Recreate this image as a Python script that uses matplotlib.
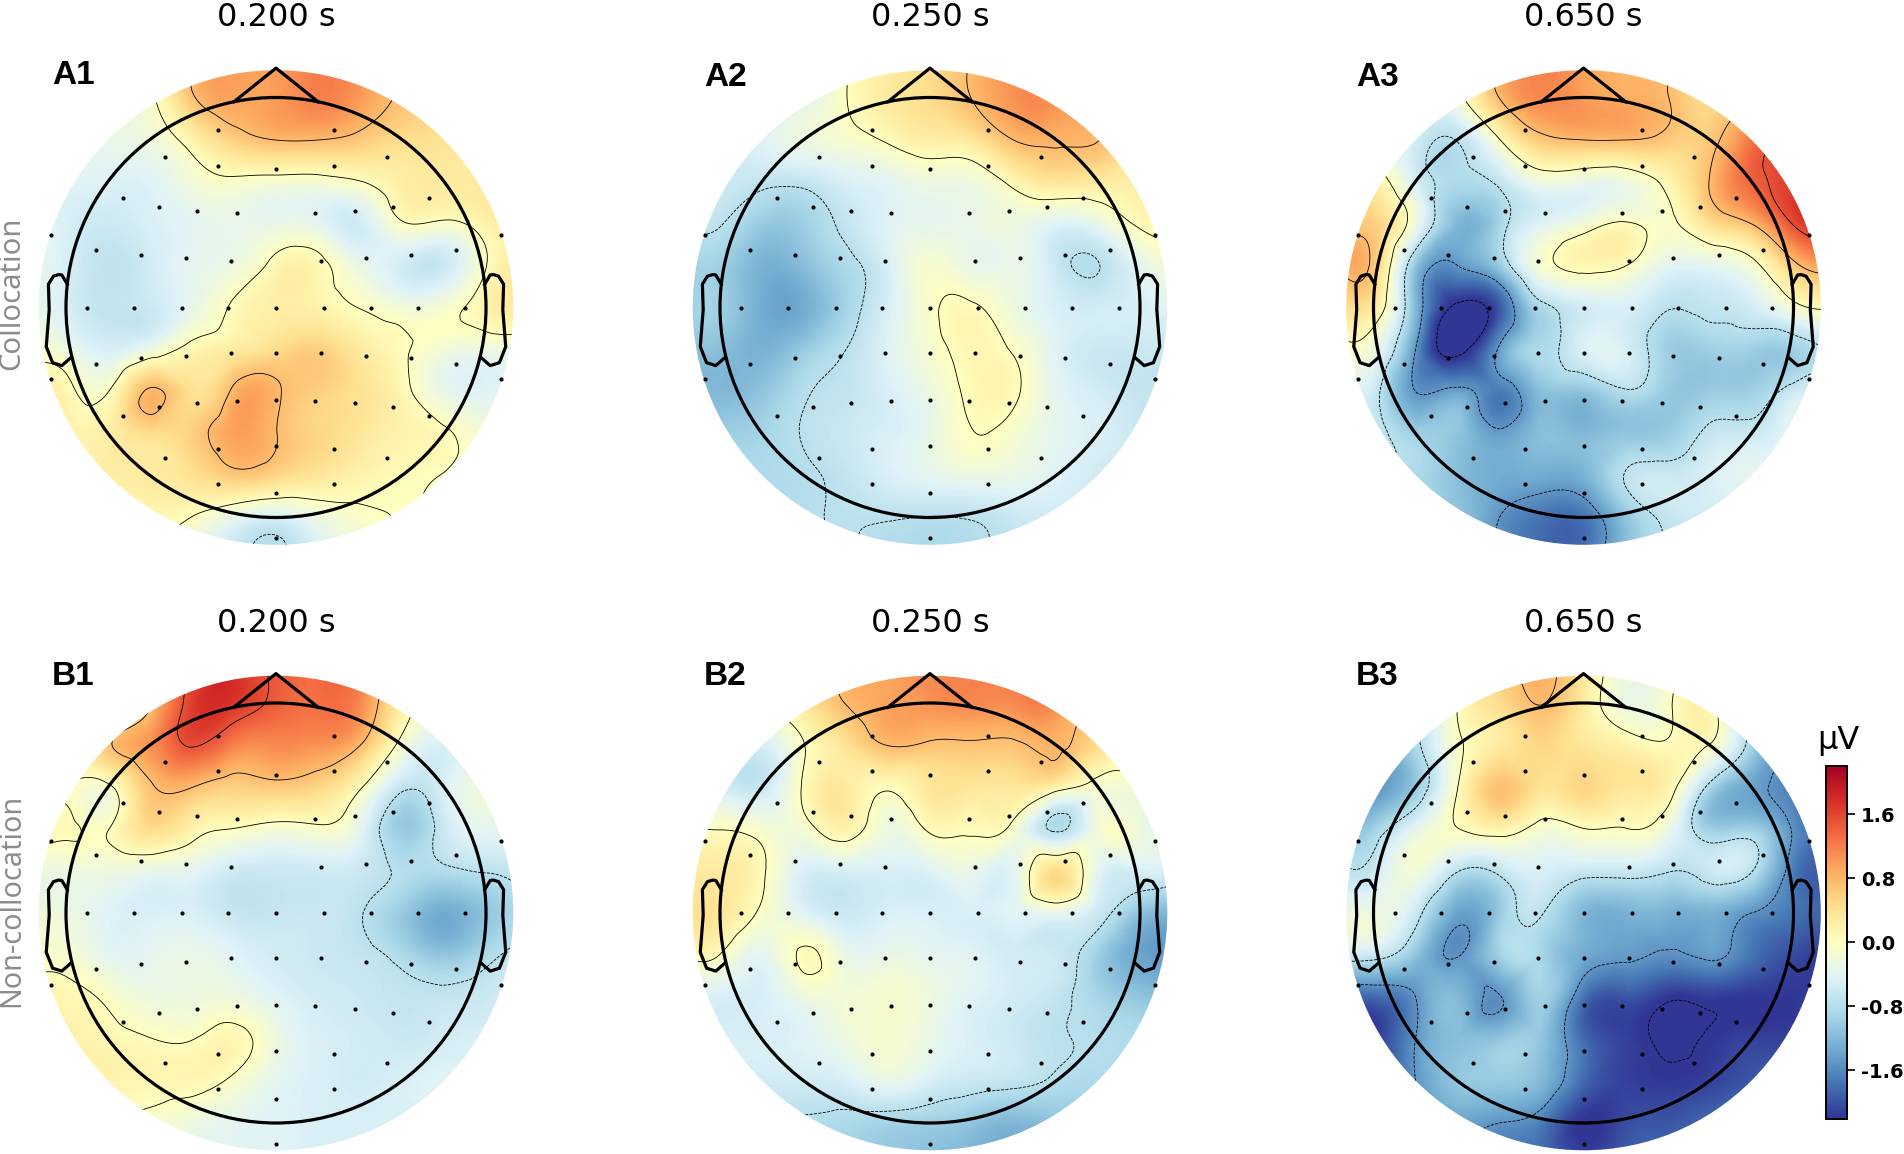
import numpy as np
import matplotlib
matplotlib.use("Agg")
import matplotlib.pyplot as plt
import matplotlib.tri as mtri
from matplotlib.patches import Circle

W, H = 1904, 1154

# sensor positions, head radius = 1
sensor_x = [-.278, .278, -.528, .528, -.278, .278, 0, -.727, .727, -.557, .557, -.376, .376, -.184, .184,
            -1.073, 1.073, -.855, .855, -.644, .644, -.428, .428, -.215, .215,
            -.898, -.678, -.45, -.23, 0, .23, .45, .678, .898,
            0, -.215, .215, -.428, .428, -.644, .644, -.855, .855, -1.073, 1.073,
            -.184, .184, 0, -.376, .376, -.557, .557, -.727, .727,
            -.278, .278, 0, -.528, .528, -.278, .278, 0, 0]
sensor_y = [.845, .845, .717, .717, .676, .676, .659, .523, .523, .479, .479, .46, .46, .448, .448,
            .344, .344, .274, .274, .25, .25, .235, .235, .221, .221,
            0, 0, 0, 0, 0, 0, 0, 0, 0,
            -.215, -.215, -.215, -.232, -.232, -.242, -.242, -.269, -.269, -.341, -.341,
            -.443, -.443, -.44, -.455, -.455, -.475, -.475, -.518, -.518,
            -.673, -.673, -.659, -.716, -.716, -.84, -.84, -.884, -1.099]

# amplitude in uV, rows from y=1.2 down to y=-1.2, columns x=-1.2 to 1.2
a1_values = [
    [-.25, -.25, -.25, -.13, .70, .94, 1.0, 1.18, 1.0, .70, .58, .58, .58],
    [-.37, -.37, -.25, -.07, .70, .94, 1.0, 1.18, 1.0, .70, .58, .58, .58],
    [-.37, -.37, -.31, -.23, .17, .58, .76, .76, .64, .46, .40, .34, .34],
    [-.43, -.43, -.45, -.43, -.19, -.07, -.13, -.13, -.01, .23, .28, .28, .28],
    [-.25, -.5, -.6, -.49, -.39, -.33, -.31, -.37, -.55, -.04, -.07, .17, .28],
    [-.25, -.5, -.7, -.55, -.37, -.25, .11, .11, -.31, -.55, -.61, -.01, .23],
    [-.25, -.5, -.68, -.6, -.31, .05, .23, .17, -.01, -.19, -.13, .17, .23],
    [-.13, -.25, -.5, -.25, .11, .28, .46, .58, .28, .05, -.19, -.25, -.25],
    [.11, .11, -.01, .80, .40, .82, .80, .58, .40, .11, -.31, -.43, -.43],
    [.17, .17, .23, .46, .58, .96, .76, .52, .34, .17, .05, -.19, -.25],
    [.23, .23, .23, .28, .40, .64, .52, .34, .17, .05, -.01, -.13, -.13],
    [.11, .11, .11, .11, -.01, -.31, -.49, -.25, -.07, .01, .01, .01, .01],
    [.01, .01, .01, .01, -.25, -.61, -.79, -.49, -.13, .01, .01, .01, .01],
]
a2_values = [
    [-.73, -.73, -.61, -.49, -.01, .28, .46, .76, 1.06, 1.06, .70, .58, .58],
    [-.73, -.61, -.49, -.37, -.01, .28, .46, .76, 1.06, 1.06, .70, .58, .58],
    [-.73, -.61, -.43, -.25, -.13, .05, .23, .34, .76, .82, .76, .46, .46],
    [-.61, -.61, -.67, -.67, -.49, -.39, -.25, -.23, .11, .34, .28, .23, .23],
    [-.73, -.73, -1.02, -.97, -.67, -.43, -.35, -.31, -.25, -.43, -.31, .05, .11],
    [-.97, -.97, -1.26, -1.14, -.85, -.49, -.13, -.31, -.31, -.61, -.76, -.37, -.13],
    [-.97, -.97, -1.32, -1.32, -.91, -.49, -.07, .05, -.25, -.49, -.55, -.49, -.43],
    [-1.14, -1.14, -1.26, -1.02, -.75, -.43, -.13, .11, -.04, -.43, -.61, -.61, -.61],
    [-1.2, -1.2, -1.08, -.79, -.67, -.49, -.25, .08, .06, -.37, -.55, -.67, -.67],
    [-.97, -.97, -.91, -.73, -.61, -.49, -.31, -.01, -.13, -.37, -.49, -.61, -.61],
    [-.85, -.85, -.85, -.79, -.67, -.49, -.37, -.27, -.31, -.43, -.55, -.55, -.55],
    [-.85, -.85, -.85, -.79, -.73, -.73, -.76, -.73, -.61, -.55, -.55, -.55, -.55],
    [-.85, -.85, -.85, -.79, -.73, -.79, -.85, -.73, -.61, -.55, -.55, -.55, -.55],
]
a3_values = [
    [-.01, -.01, -.49, -.13, .76, 1.12, 1.0, .88, .76, .46, .70, 1.18, 1.65],
    [.11, -.01, -.49, -.13, .76, 1.12, 1.0, .88, .76, .46, .82, 1.30, 1.65],
    [.11, -.13, -.55, -.73, -.01, .64, .76, .76, .64, .64, 1.24, 1.65, 1.89],
    [.23, .23, -.49, -.85, -.67, -.25, -.3, -.25, .11, .76, 1.36, 1.65, 1.89],
    [.58, .58, -.25, -1.2, -.91, -.43, -.19, .03, -.07, .40, .76, 1.53, 1.77],
    [.64, .64, -1.08, -1.5, -1.02, -.13, .11, .01, -.37, -.37, -.13, .64, .94],
    [.28, .28, -1.2, -2.35, -1.95, -.85, -.55, -.49, -.73, -.67, -.55, -.13, -.01],
    [-.25, -.25, -1.5, -2.4, -1.44, -.85, -.49, -.49, -.97, -.97, -.97, -.97, -.61],
    [-.61, -.61, -1.5, -1.4, -1.7, -1.14, -1.08, -.79, -1.02, -1.02, -.97, -.61, -.49],
    [-.61, -.61, -.97, -1.08, -1.44, -1.14, -1.2, -1.08, -1.02, -.67, -.61, -.37, -.37],
    [-.73, -.73, -.85, -1.14, -1.32, -1.32, -1.26, -.73, -.61, -.49, -.37, -.37, -.37],
    [-.97, -.97, -.97, -1.08, -1.5, -1.75, -1.75, -1.08, -.67, -.55, -.49, -.49, -.49],
    [-.97, -.97, -.97, -1.08, -1.54, -1.75, -1.75, -1.08, -.67, -.55, -.49, -.49, -.49],
]
b1_values = [
    [-.13, -.13, -.13, .70, 1.65, 1.71, 1.42, 1.30, 1.12, .23, -.13, -.25, -.25],
    [-.13, -.13, -.01, .70, 1.65, 1.71, 1.42, 1.30, 1.12, .23, -.13, -.25, -.25],
    [.23, .23, .70, 1.06, 1.53, 1.18, 1.12, 1.06, .76, -.13, -.49, -.37, -.37],
    [-.01, -.01, -.07, .70, .76, .58, .64, .52, .05, -.67, -.49, -.19, -.19],
    [.05, .05, -.01, .46, .17, -.01, -.13, -.07, -.37, -1.02, -.61, -.37, -.25],
    [-.25, -.25, -.25, -.31, -.37, -.58, -.6, -.58, -.61, -.79, -.82, -.73, -.61],
    [-.25, -.25, -.43, -.49, -.49, -.65, -.65, -.62, -.73, -1.02, -1.32, -1.08, -.73],
    [-.13, -.13, -.37, -.37, -.31, -.43, -.55, -.61, -.67, -.85, -1.08, -.85, -.61],
    [.11, .11, -.07, -.25, -.25, -.25, -.43, -.55, -.61, -.67, -.67, -.61, -.49],
    [.17, .17, .11, .01, -.01, .11, -.25, -.49, -.55, -.61, -.55, -.49, -.49],
    [.17, .17, .17, .11, .11, -.07, -.37, -.49, -.55, -.49, -.43, -.43, -.43],
    [-.01, -.01, -.01, -.07, -.25, -.37, -.43, -.49, -.49, -.49, -.49, -.49, -.49],
    [-.01, -.01, -.01, -.07, -.25, -.37, -.43, -.49, -.49, -.49, -.49, -.49, -.49],
]
b2_values = [
    [-.01, -.01, -.01, .34, .76, .94, 1.06, 1.12, 1.12, 1.06, .34, .23, .23],
    [-.01, -.01, -.01, .34, .76, .94, 1.06, 1.12, 1.12, 1.06, .34, .23, .23],
    [-.49, -.49, -.49, -.01, .40, .76, .70, .70, .70, .82, .46, .23, .23],
    [-.55, -.55, -.61, .05, .28, .05, .34, .34, .34, .17, -.13, -.13, -.13],
    [-.01, -.01, -.13, -.13, .17, -.25, .05, .05, -.13, -.8, -.19, -.25, -.25],
    [.28, .28, .05, -.49, -.49, -.49, -.43, -.31, -.37, .45, -.37, -.49, -.61],
    [.34, .34, -.07, -.43, -.61, -.49, -.49, -.49, -.43, -.31, -.61, -1.08, -1.2],
    [-.01, -.01, -.37, .05, -.31, -.31, -.37, -.43, -.55, -.61, -.97, -1.38, -1.44],
    [-.49, -.49, -.49, -.25, -.19, -.13, -.25, -.43, -.55, -.67, -.91, -1.08, -1.2],
    [-.49, -.49, -.49, -.43, -.25, -.13, -.31, -.49, -.61, -.73, -.79, -.85, -.85],
    [-.55, -.55, -.55, -.55, -.49, -.31, -.49, -.61, -.67, -.79, -.85, -.85, -.85],
    [-.73, -.73, -.73, -.79, -.85, -.91, -.97, -1.08, -1.2, -1.08, -.97, -.97, -.97],
    [-.73, -.73, -.73, -.79, -.85, -.97, -1.08, -1.2, -1.2, -1.08, -.97, -.97, -.97],
]
b3_values = [
    [-.97, -.97, -.97, -.01, .46, .82, .23, -.13, -.07, .11, -.97, -1.54, -1.54],
    [-1.2, -1.2, -.97, .01, .46, .76, .28, -.25, -.07, .11, -.97, -1.54, -1.54],
    [-1.32, -1.32, -.85, -.07, .28, .52, .34, .17, .05, -.01, -.91, -1.6, -1.68],
    [-1.54, -1.54, -1.02, -.01, .70, .40, .52, .34, .17, -.85, -1.38, -1.68, -1.75],
    [-.97, -.97, -.37, -.01, .17, -.13, -.01, -.01, -.25, -.97, -.97, -1.54, -1.75],
    [-.61, -.61, -.19, -.73, -.67, -.49, -.61, -.61, -.73, -.61, -.73, -1.68, -1.82],
    [-.25, -.25, -.61, -1.38, -1.02, -.73, -1.2, -1.26, -1.26, -1.26, -1.5, -1.75, -1.89],
    [-.61, -.61, -1.08, -1.52, -.95, -.91, -1.32, -1.44, -1.54, -1.44, -1.75, -2.04, -2.11],
    [-1.82, -1.82, -1.5, -1.2, -1.52, -.95, -1.75, -1.97, -2.18, -2.14, -2.18, -2.18, -2.18],
    [-2.18, -2.18, -1.5, -1.14, -1.08, -1.08, -1.82, -2.11, -2.32, -2.21, -2.11, -2.11, -2.11],
    [-1.89, -1.89, -1.5, -1.08, -1.02, -1.2, -1.82, -2.11, -2.18, -2.11, -1.97, -1.89, -1.89],
    [-1.54, -1.54, -1.44, -1.38, -1.5, -1.68, -2.21, -2.04, -1.97, -1.82, -1.75, -1.75, -1.75],
    [-1.54, -1.54, -1.44, -1.44, -1.68, -1.82, -1.97, -1.89, -1.82, -1.75, -1.75, -1.75, -1.75],
]

panel_values = [a1_values, a2_values, a3_values, b1_values, b2_values, b3_values]
panel_labels = ["A1", "A2", "A3", "B1", "B2", "B3"]
panel_times = ["0.200 s", "0.250 s", "0.650 s", "0.200 s", "0.250 s", "0.650 s"]
row_labels = ["Collocation", "Non-collocation"]
contour_levels = [-2.25, -1.5, -.75, 0, .75, 1.5]
cbar_ticks = [-1.6, -.8, 0, .8, 1.6]
vlim = 2.2

col_cx = [276, 930, 1583.5]
row_cy = [307.5, 913]
label_x = [52, 704, 1356]
label_y = [75.5, 77.5, 77.5, 676.5, 676.5, 676.5]
head_px = 210
extent = 1.145
disc_r = 1.13

fig = plt.figure(figsize=(W / 100, H / 100), dpi=100)

grid_nodes = np.linspace(-1.2, 1.2, 13)
gx, gy = np.meshgrid(grid_nodes, grid_nodes[::-1])
tri = mtri.Triangulation(gx.ravel(), gy.ravel())
fine = np.linspace(-extent, extent, 401)
fx, fy = np.meshgrid(fine, fine)

# head outline, same for all the maps
ear_x = np.array([.497, .510, .518, .5299, .5419, .54, .547, .532, .510, .489]) * 2
ear_y = np.array([.0555, .0775, .0783, .0746, .0555, -.0055, -.0932, -.1313, -.1384, -.1199]) * 2
nose_x = [-.2, 0, .2]
nose_y = [.98, 1.14, .98]

for i, values in enumerate(panel_values):
    cx = col_cx[i % 3]
    cy = row_cy[i // 3]
    half = extent * head_px
    ax = fig.add_axes([(cx - half) / W, 1 - (cy + half) / H, 2 * half / W, 2 * half / H])
    ax.set_xlim(-extent, extent)
    ax.set_ylim(-extent, extent)
    ax.axis("off")

    interp = mtri.CubicTriInterpolator(tri, np.array(values, dtype=float).ravel(), kind="min_E")
    field = np.ma.filled(interp(fx, fy), 0.0)

    clip = Circle((0, 0), disc_r, transform=ax.transData)
    im = ax.imshow(field, origin="lower", extent=(-extent, extent, -extent, extent),
                   cmap="RdYlBu_r", vmin=-vlim, vmax=vlim, interpolation="bilinear")
    im.set_clip_path(clip)
    cs = ax.contour(fx, fy, field, levels=contour_levels, colors="k", linewidths=0.6,
                    linestyles=["--" if v < 0 else "-" for v in contour_levels])
    cs.set_clip_path(clip)

    ax.scatter(sensor_x, sensor_y, s=9, c="k", linewidths=0, zorder=3, clip_on=False)
    ax.add_patch(Circle((0, 0), 1.0, fill=False, ec="k", lw=2.3, zorder=4))
    ax.plot(nose_x, nose_y, color="k", lw=2.3, zorder=4, clip_on=False)
    ax.plot(ear_x, ear_y, color="k", lw=2.3, zorder=4, clip_on=False)
    ax.plot(-ear_x, ear_y, color="k", lw=2.3, zorder=4, clip_on=False)

    fig.text(cx / W, 1 - (cy - 290) / H, panel_times[i], ha="center", va="center", fontsize=23)
    fig.text(label_x[i % 3] / W, 1 - label_y[i] / H, panel_labels[i], ha="left", va="center",
             fontsize=24, fontweight="bold", family="Liberation Sans")

fig.text(12 / W, 1 - 293 / H, row_labels[0], rotation=90, ha="center", va="center",
         fontsize=21, color="#8c8c8c", family="Noto Sans")
fig.text(12 / W, 1 - 900 / H, row_labels[1], rotation=90, ha="center", va="center",
         fontsize=20.7, color="#8c8c8c", family="Noto Sans")

cax = fig.add_axes([1826 / W, 1 - 1118.5 / H, 21 / W, 352.5 / H])
cbar = fig.colorbar(im, cax=cax, ticks=cbar_ticks)
cbar.ax.set_yticklabels(["-1.6", "-0.8", "0.0", "0.8", "1.6"], fontsize=14, fontweight="bold")
cbar.ax.tick_params(length=6, width=1.2, pad=4)
cbar.outline.set_linewidth(1.4)
fig.text(1838 / W, 1 - 741 / H, "µV", ha="center", va="center", fontsize=23)

fig.savefig("out.png", dpi=100)
